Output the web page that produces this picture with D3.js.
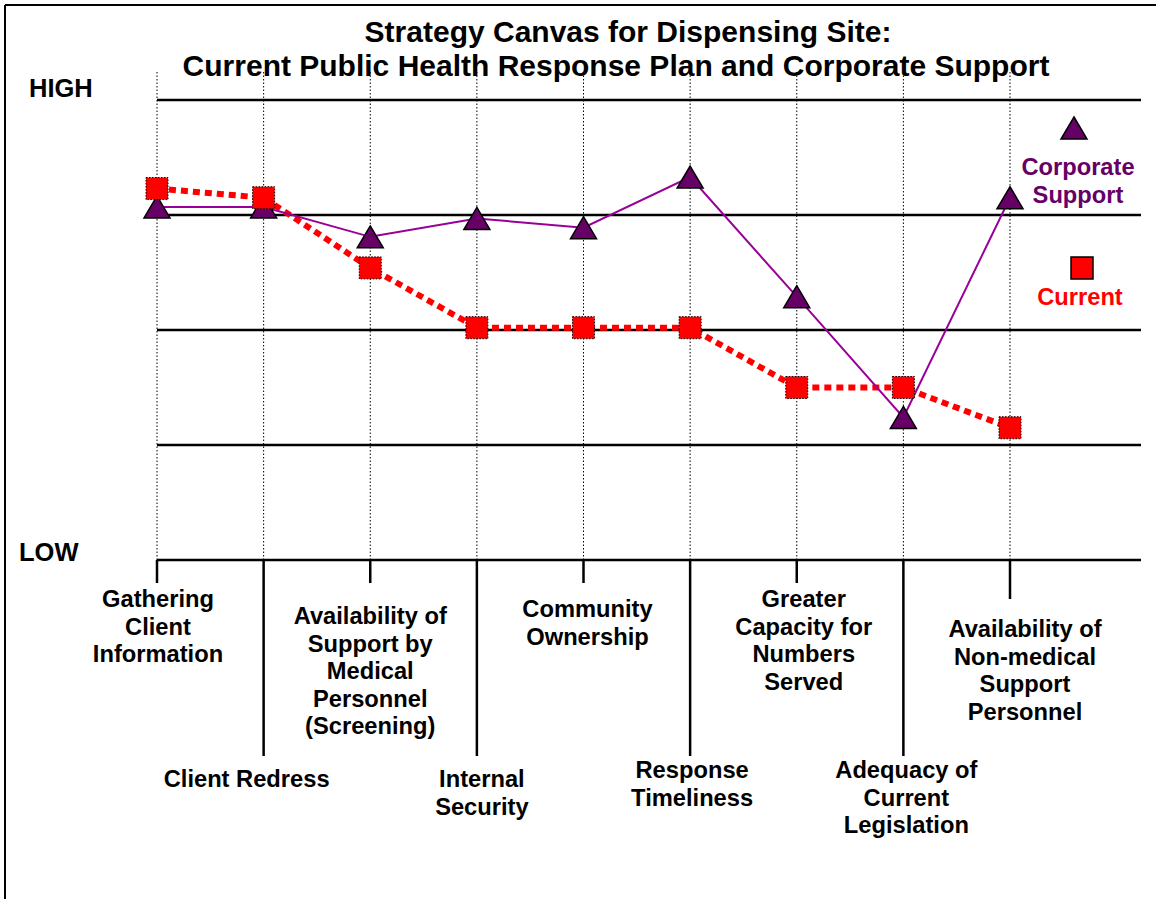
<!DOCTYPE html>
<html>
<head>
<meta charset="utf-8">
<script src="https://cdn.jsdelivr.net/npm/d3@7"></script>
<style>
  body { margin: 0; background: #fff; }
  text { font-family: "Liberation Sans", Arial, sans-serif; font-weight: bold; }
</style>
</head>
<body>
<svg id="chart" width="1156" height="899"></svg>
<script>
// categories along the bottom
var categories = [
  "Gathering Client Information",
  "Client Redress",
  "Availability of Support by Medical Personnel (Screening)",
  "Internal Security",
  "Community Ownership",
  "Response Timeliness",
  "Greater Capacity for Numbers Served",
  "Adequacy of Current Legislation",
  "Availability of Non-medical Support Personnel"
];
// how each label is broken into lines
var labelLines = [
  ["Gathering", "Client", "Information"],
  ["Client Redress"],
  ["Availability of", "Support by", "Medical", "Personnel", "(Screening)"],
  ["Internal", "Security"],
  ["Community", "Ownership"],
  ["Response", "Timeliness"],
  ["Greater", "Capacity for", "Numbers", "Served"],
  ["Adequacy of", "Current", "Legislation"],
  ["Availability of", "Non-medical", "Support", "Personnel"]
];
// series values, 0 = LOW .. 4 = HIGH
var corporate = [3.07, 3.07, 2.81, 2.97, 2.89, 3.33, 2.29, 1.24, 3.15];
var current   = [3.23, 3.15, 2.54, 2.02, 2.02, 2.02, 1.50, 1.50, 1.15];
var levels = [0, 1, 2, 3, 4];

// layout bits for the labels (not data)
var labelDx  = [1, -17, 0, 5, 4, 2, 7, 3, 15];
var labelTop = [599, 779, 616, 779, 609, 770, 599, 770, 629];
var tickEnd  = [583, 756, 583, 756, 583, 756, 583, 756, 599];

var svg = d3.select("#chart");

var x = d3.scalePoint()
    .domain(categories)
    .range([157, 1010]);

var y = d3.scaleLinear()
    .domain([0, 4])
    .range([560, 100]);

// frame (top and left only)
svg.append("line").attr("x1", 5).attr("x2", 1156).attr("y1", 5).attr("y2", 5)
  .attr("stroke", "#000").attr("stroke-width", 2);
svg.append("line").attr("x1", 5).attr("x2", 5).attr("y1", 5).attr("y2", 899)
  .attr("stroke", "#000").attr("stroke-width", 2);

// title
svg.append("text").attr("x", 628).attr("y", 42).attr("text-anchor", "middle")
  .attr("font-size", 30).text("Strategy Canvas for Dispensing Site:");
svg.append("text").attr("x", 616).attr("y", 76).attr("text-anchor", "middle")
  .attr("font-size", 30).text("Current Public Health Response Plan and Corporate Support");

svg.append("text").attr("x", 29).attr("y", 97).attr("font-size", 25.5).text("HIGH");
svg.append("text").attr("x", 19).attr("y", 561).attr("font-size", 25.5).text("LOW");

// vertical dotted guides
svg.append("g").selectAll("line")
  .data(categories)
  .enter().append("line")
  .attr("x1", function(d) { return x(d); })
  .attr("x2", function(d) { return x(d); })
  .attr("y1", 72)
  .attr("y2", 560)
  .attr("stroke", "#000")
  .attr("stroke-width", 1)
  .attr("stroke-dasharray", "1.5,2");

// horizontal level lines
svg.append("g").selectAll("line")
  .data(levels)
  .enter().append("line")
  .attr("x1", 157)
  .attr("x2", 1141)
  .attr("y1", function(d) { return y(d); })
  .attr("y2", function(d) { return y(d); })
  .attr("stroke", "#000")
  .attr("stroke-width", 2.5);

// ticks under the baseline
svg.append("g").selectAll("line")
  .data(categories)
  .enter().append("line")
  .attr("x1", function(d) { return x(d); })
  .attr("x2", function(d) { return x(d); })
  .attr("y1", y(0))
  .attr("y2", function(d, i) { return tickEnd[i]; })
  .attr("stroke", "#000")
  .attr("stroke-width", 2.5);

// category labels
var lab = svg.append("g").selectAll("text")
  .data(categories)
  .enter().append("text")
  .attr("text-anchor", "middle")
  .attr("font-size", 23.7);
lab.each(function(d, i) {
  var t = d3.select(this);
  labelLines[i].forEach(function(s, j) {
    t.append("tspan")
      .attr("x", x(d) + labelDx[i])
      .attr("y", labelTop[i] + 8 + j * 27.6)
      .text(s);
  });
});

var line = d3.line()
  .x(function(d, i) { return x(categories[i]); })
  .y(function(d) { return y(d); });

svg.append("path").datum(current)
  .attr("d", line)
  .attr("fill", "none")
  .attr("stroke", "#ff0000")
  .attr("stroke-width", 6)
  .attr("stroke-dasharray", "7,5");

svg.append("path").datum(corporate)
  .attr("d", line)
  .attr("fill", "none")
  .attr("stroke", "#990099")
  .attr("stroke-width", 2);

function tri(cx, cy) {
  return "M" + cx + "," + (cy - 11) + "L" + (cx + 13) + "," + (cy + 11) +
         "L" + (cx - 13) + "," + (cy + 11) + "Z";
}

svg.append("g").selectAll("path")
  .data(corporate)
  .enter().append("path")
  .attr("d", function(d, i) { return tri(x(categories[i]), y(d)); })
  .attr("fill", "#660066")
  .attr("stroke", "#000")
  .attr("stroke-width", 1.5);

svg.append("g").selectAll("rect")
  .data(current)
  .enter().append("rect")
  .attr("x", function(d, i) { return x(categories[i]) - 11; })
  .attr("y", function(d) { return y(d) - 11; })
  .attr("width", 22)
  .attr("height", 22)
  .attr("fill", "#ff0000")
  .attr("stroke", "#000")
  .attr("stroke-width", 1)
  .attr("stroke-dasharray", "1.5,1.5");

// legend
var legend = svg.append("g");
legend.append("path").attr("d", tri(1074, 128))
  .attr("fill", "#660066").attr("stroke", "#000").attr("stroke-width", 1.5);
legend.append("text").attr("x", 1078).attr("y", 175).attr("text-anchor", "middle")
  .attr("font-size", 23.7).attr("fill", "#660066")
  .selectAll("tspan").data(["Corporate", "Support"]).enter().append("tspan")
  .attr("x", 1078).attr("dy", function(d, i) { return i ? 27.5 : 0; })
  .text(function(d) { return d; });
legend.append("rect").attr("x", 1071).attr("y", 257).attr("width", 22).attr("height", 22)
  .attr("fill", "#ff0000").attr("stroke", "#000").attr("stroke-width", 1.5);
legend.append("text").attr("x", 1080).attr("y", 305).attr("text-anchor", "middle")
  .attr("font-size", 23.7).attr("fill", "#ff0000").text("Current");
</script>
</body>
</html>
